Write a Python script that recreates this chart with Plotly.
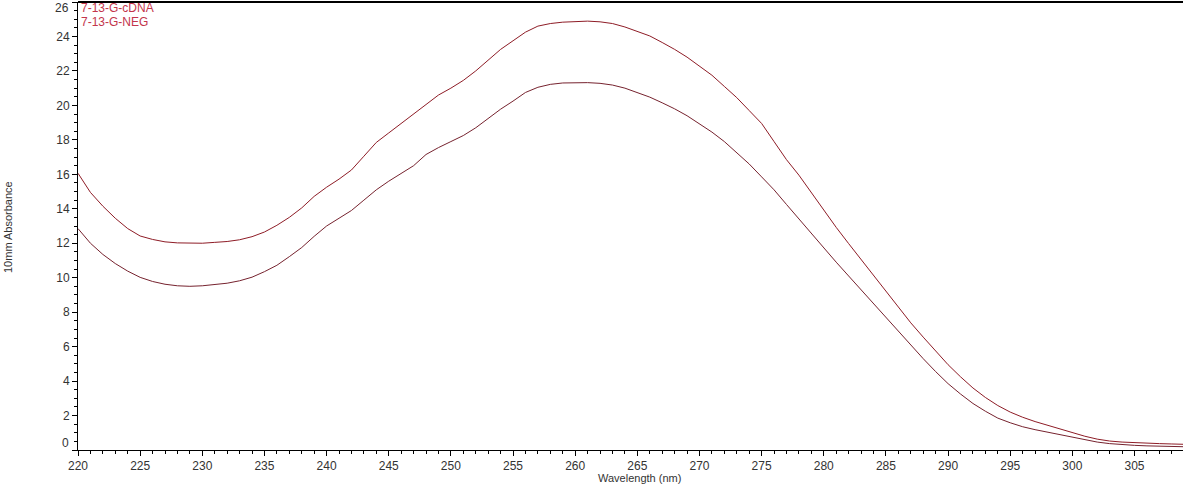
import plotly.graph_objects as go

wavelength = list(range(220, 310))

cdna = [16.06, 14.95, 14.15, 13.45, 12.85, 12.42, 12.22, 12.08, 12.02, 12.00,
        12.00, 12.05, 12.10, 12.20, 12.38, 12.65, 13.04, 13.50, 14.05, 14.72,
        15.25, 15.72, 16.25, 17.05, 17.85, 18.40, 18.95, 19.52, 20.10, 20.60,
        21.00, 21.45, 22.00, 22.65, 23.25, 23.75, 24.25, 24.60, 24.75, 24.83,
        24.88, 24.89, 24.85, 24.75, 24.55, 24.30, 24.03, 23.65, 23.25, 22.80,
        22.30, 21.75, 21.10, 20.45, 19.70, 18.95, 17.90, 16.85, 15.95, 14.95,
        13.90, 12.92, 11.98, 11.05, 10.12, 9.20, 8.25, 7.38, 6.55, 5.72,
        4.95, 4.25, 3.60, 3.05, 2.58, 2.20, 1.90, 1.65, 1.44, 1.22,
        1.00, 0.80, 0.63, 0.52, 0.46, 0.42, 0.39, 0.37, 0.35, 0.33]

neg = [12.85, 12.00, 11.35, 10.82, 10.38, 10.02, 9.78, 9.62, 9.53, 9.50,
       9.53, 9.60, 9.68, 9.82, 10.03, 10.35, 10.72, 11.22, 11.75, 12.40,
       13.00, 13.45, 13.90, 14.50, 15.10, 15.60, 16.05, 16.50, 17.15, 17.55,
       17.90, 18.25, 18.70, 19.25, 19.78, 20.25, 20.75, 21.05, 21.22, 21.30,
       21.33, 21.32, 21.28, 21.18, 21.00, 20.75, 20.48, 20.15, 19.80, 19.40,
       18.95, 18.45, 17.90, 17.25, 16.60, 15.85, 15.10, 14.25, 13.40, 12.55,
       11.70, 10.90, 10.10, 9.30, 8.50, 7.65, 6.85, 6.05, 5.30, 4.55,
       3.85, 3.25, 2.70, 2.25, 1.85, 1.58, 1.35, 1.18, 1.03, 0.88,
       0.72, 0.58, 0.46, 0.37, 0.31, 0.27, 0.24, 0.22, 0.20, 0.19]

series_names = ["7-13-G-cDNA", "7-13-G-NEG"]
x_ticks = list(range(220, 310, 5))
y_ticks = list(range(0, 27, 2))
x_title = "Wavelength (nm)"
y_title = "10mm Absorbance"

fig = go.Figure()
fig.add_trace(go.Scatter(x=wavelength, y=cdna, mode="lines", name=series_names[0],
                         line=dict(color="#8e1c26", width=1)))
fig.add_trace(go.Scatter(x=wavelength, y=neg, mode="lines", name=series_names[1],
                         line=dict(color="#76222e", width=1)))

tick_font = dict(family="Liberation Sans, Arial, sans-serif", size=12, color="#333333")
title_font = dict(family="Liberation Sans, Arial, sans-serif", size=11, color="#333333")

fig.update_layout(
    width=1183, height=485,
    margin=dict(l=78, r=0, t=2, b=35, autoexpand=False),
    paper_bgcolor="white", plot_bgcolor="white",
    showlegend=False,
    font=tick_font,
)
fig.update_xaxes(
    automargin=False,
    range=[220, 308.9],
    tickvals=x_ticks, ticktext=[str(v) for v in x_ticks],
    ticks="outside", ticklen=5, tickcolor="black", tickwidth=1,
    minor=dict(dtick=1, ticks="outside", ticklen=3, tickcolor="black", showgrid=False),
    showline=True, linecolor="black", linewidth=1,
    showgrid=False, zeroline=False,
    tickfont=tick_font,
)
fig.update_yaxes(
    automargin=False,
    range=[0, 26.0],
    tickvals=y_ticks,
    ticktext=["" if v in (0, 26) else str(v) for v in y_ticks],
    ticks="outside", ticklen=5, tickcolor="black", tickwidth=1,
    minor=dict(dtick=0.5, ticks="outside", ticklen=3, tickcolor="black", showgrid=False),
    showline=True, linecolor="black", linewidth=1,
    showgrid=False, zeroline=False,
    tickfont=tick_font,
)

# top border
fig.add_shape(type="line", xref="paper", yref="paper", x0=0, x1=1, y0=1, y1=1,
              line=dict(color="black", width=2))

# axis titles
fig.add_annotation(text=x_title, xref="paper", yref="paper", x=0.508, y=0,
                   xanchor="center", yanchor="middle", yshift=-28,
                   showarrow=False, font=title_font)
fig.add_annotation(text=y_title, xref="paper", yref="paper", x=0, y=0.5,
                   xanchor="center", yanchor="middle", xshift=-70, yshift=-1,
                   textangle=-90, showarrow=False, font=title_font)

# end tick labels shifted inward as in the original
fig.add_annotation(text=str(y_ticks[0]), xref="paper", yref="paper", x=0, y=0,
                   xanchor="right", yanchor="bottom", xshift=-7, yshift=-2,
                   showarrow=False, font=tick_font)
fig.add_annotation(text=str(y_ticks[-1]), xref="paper", yref="paper", x=0, y=1,
                   xanchor="right", yanchor="top", xshift=-7, yshift=3,
                   showarrow=False, font=tick_font)

# legend text
legend_font = dict(family="Liberation Sans, Arial, sans-serif", size=12, color="#c3354c")
for i, name in enumerate(series_names):
    fig.add_annotation(text=name, xref="paper", yref="paper", x=0, y=1,
                       xanchor="left", yanchor="top", xshift=1, yshift=3 - 14 * i,
                       showarrow=False, font=legend_font)

fig.write_html(
    "out.html",
    config={"displayModeBar": False},
    post_script="document.body.style.margin='0';document.body.style.overflow='hidden';",
)
